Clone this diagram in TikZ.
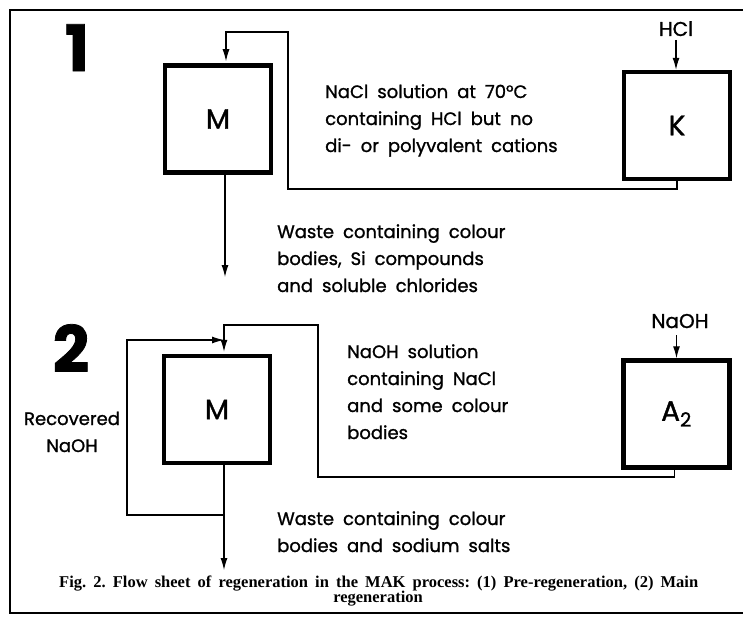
\documentclass[tikz,border=0pt]{standalone}
\usepackage{fontspec}
\setmainfont{Poppins}[RawFeature={embolden=1.2}]
\newfontfamily\capfont{Liberation Serif}
\usetikzlibrary{arrows.meta}
\newcommand\widewordsp{\spaceskip=9pt plus 2pt minus 1pt\relax}
\begin{document}
\begin{tikzpicture}[x=1pt,y=-1pt,
  unit/.style={draw, line width=4.5pt, inner sep=0pt, minimum width=106pt, minimum height=107pt,
               font=\fontsize{28}{28}\selectfont},
  pipe/.style={line width=1.1pt},
  flow/.style={pipe, -{Latex[length=12pt,width=7pt]}},
  txt/.style={anchor=base west, inner sep=0pt, font=\fontsize{18}{27}\selectfont\widewordsp},
  feed/.style={anchor=base, inner sep=0pt, font=\fontsize{20}{20}\selectfont},
  big/.style={anchor=base, inner sep=0pt, font=\fontsize{64}{64}\selectfont\bfseries},
  captext/.style={inner sep=0pt, font=\capfont\bfseries\fontsize{16.5}{16}\selectfont\frenchspacing}]
\useasboundingbox (0,0) rectangle (743,618);
% frame
\draw[line width=2.5pt] (743,10) -- (10,10) -- (10,613) -- (743,613);

% stage 1
\node[big] (n1) at (77,71) {1};
\node[unit] (M1) at (218,119) {M};
\node[unit] (K) at (677,125.5) {K};
\node[feed] (hcl) at (676,36) {HCl};
\coordinate (c1) at (288,189);
\coordinate (c2) at (226,32);
\coordinate (w1) at (225,277);
\draw[flow] ([yshift=-4pt]hcl.base) -- (hcl.base |- K.north);
\draw[flow, shorten >=2pt] (K.south) |- (c1) |- (c2) -- (c2 |- M1.north);
\draw[flow] (w1 |- M1.south) -- (w1);
\node[txt] (t1) at (325,98) {\vtop{\hbox{NaCl solution at 70°C}\hbox{containing HCl but no}\hbox{di- or polyvalent cations}}};
\node[txt] (t2) at (277,238) {\vtop{\hbox{Waste containing colour}\hbox{bodies, Si compounds}\hbox{and soluble chlorides}}};

% stage 2
\node[big] (n2) at (71,372) {2};
\node[unit] (M2) at (217,409.5) {M};
\node[unit] (A2) at (676.5,414) {A\textsubscript{2}};
\node[feed] (naoh) at (680,328) {NaOH};
\coordinate (d1) at (318,477);
\coordinate (d2) at (224,325);
\coordinate (b1) at (224,515);
\coordinate (b2) at (127,340);
\coordinate (w2) at (224,570);
\draw[flow] ([yshift=-7pt]naoh.base -| A2.north) -- (A2.north);
\draw[flow, shorten >=2pt] ([xshift=-2pt]A2.south) |- (d1) |- (d2) -- (d2 |- M2.north);
\draw[flow] (b1) -| (b2) -- (d2 |- b2);
\draw[flow] (w2 |- M2.south) -- (w2);
\node[txt] (t3) at (347,358) {\vtop{\hbox{NaOH solution}\hbox{containing NaCl}\hbox{and some colour}\hbox{bodies}}};
\node[txt] (t4) at (277,525) {\vtop{\hbox{Waste containing colour}\hbox{bodies and sodium salts}}};
\node[anchor=base, inner sep=0pt, font=\fontsize{18}{27}\selectfont] (rec) at (72,425)
  {\vtop{\halign{\hfil#\hfil\cr Recovered\cr NaOH\cr}}};

% caption
\node[captext, anchor=base west] (cap1) at (59,587)
  {\makebox[639pt][s]{Fig. 2. Flow sheet of regeneration in the MAK process: (1) Pre-regeneration, (2) Main}};
\node[captext, anchor=base] (cap2) at (378,602) {regeneration};
\end{tikzpicture}
\end{document}
